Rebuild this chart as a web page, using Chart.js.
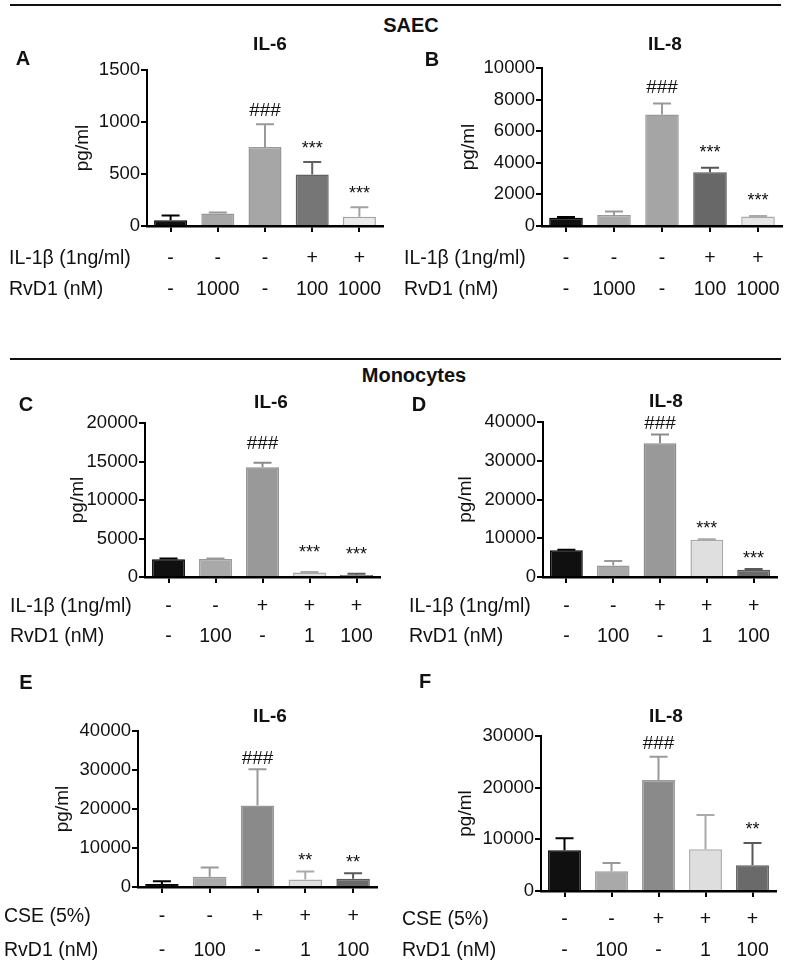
<!DOCTYPE html>
<html><head><meta charset="utf-8">
<script src="https://cdn.jsdelivr.net/npm/chart.js@4.4.1/dist/chart.umd.min.js"></script>
<style>
body{margin:0;background:#fff;width:788px;height:966px;position:relative;overflow:hidden;font-family:"Liberation Sans",Arial,sans-serif;}
.rule{position:absolute;left:10px;width:771px;height:2px;background:#111;}
.hdr{position:absolute;font-weight:bold;font-size:20px;transform:translate(-50%,-50%);white-space:nowrap;color:#111;}
canvas{position:absolute;}
</style></head><body>
<div class="rule" style="top:4px"></div>
<div class="hdr" style="left:411px;top:25px">SAEC</div>
<div class="rule" style="top:358px"></div>
<div class="hdr" style="left:414px;top:375px">Monocytes</div>
<canvas id="cA"></canvas><canvas id="cB"></canvas>
<canvas id="cC"></canvas><canvas id="cD"></canvas>
<canvas id="cE"></canvas><canvas id="cF"></canvas>
<script>
// ---- data ----
const il1bSAEC = ['-', '-', '-', '+', '+'];
const rvd1SAEC = ['-', '1000', '-', '100', '1000'];
const il1bMono = ['-', '-', '+', '+', '+'];
const rvd1Mono = ['-', '100', '-', '1', '100'];
const cseMono = ['-', '-', '+', '+', '+'];

const il6SAEC = [55, 120, 760, 495, 90];
const il6SAECErr = [45, 10, 218, 120, 90];
const il8SAEC = [520, 700, 7050, 3400, 600];
const il8SAECErr = [50, 220, 710, 280, 40];
const il6MonoIL1 = [2300, 2350, 14250, 600, 260];
const il6MonoIL1Err = [100, 50, 600, 60, 150];
const il8MonoIL1 = [6900, 3000, 34500, 9600, 1900];
const il8MonoIL1Err = [150, 1100, 2300, 150, 150];
const il6MonoCSE = [800, 2600, 20900, 1900, 2100];
const il6MonoCSEErr = [700, 2400, 9300, 2100, 1400];
const il8MonoCSE = [7900, 3800, 21500, 8100, 5000];
const il8MonoCSEErr = [2300, 1600, 4500, 6600, 4300];

const sigSAEC = ['', '', '###', '***', '***'];
const sigMonoIL1 = ['', '', '###', '***', '***'];
const sigIL6CSE = ['', '', '###', '**', '**'];
const sigIL8CSE = ['', '', '###', '', '**'];

// ---- styles ----
const FONT = '"Liberation Sans", Arial, sans-serif';
Chart.defaults.font.family = FONT;
const fillsA = ['#101010', '#a7a7a7', '#a6a6a6', '#767676', '#ebebeb'];
const bordA = ['#000000', '#999999', '#999999', '#606060', '#a3a3a3'];
const fillsB = ['#101010', '#a9a9a9', '#a5a5a5', '#686868', '#e6e6e6'];
const bordB = ['#000000', '#999999', '#999999', '#555555', '#aaaaaa'];
const fillsMono = ['#101010', '#a9a9a9', '#999999', '#dfdfdf', '#6a6a6a'];
const bordMono = ['#000000', '#999999', '#8c8c8c', '#a8a8a8', '#595959'];
const fillsCSE = ['#101010', '#a9a9a9', '#8a8a8a', '#dedede', '#6a6a6a'];
const bordCSE = ['#000000', '#999999', '#9a9a9a', '#aaaaaa', '#595959'];

const panels = [
  {id:'cA', box:[0,30,394,275], area:[147,383,70,226], max:1500, step:500,
   values:il6SAEC, errs:il6SAECErr, sig:sigSAEC, rows:[['IL-1β (1ng/ml)', il1bSAEC], ['RvD1 (nM)', rvd1SAEC]],
   rowX:9, rowY:[259,290], letter:['A',23,59], title:['IL-6',270,45], yTitleX:83, fills:fillsA, borders:bordA, gap:8},
  {id:'cB', box:[394,30,394,275], area:[542,782,68,226], max:10000, step:2000,
   values:il8SAEC, errs:il8SAECErr, sig:sigSAEC, rows:[['IL-1β (1ng/ml)', il1bSAEC], ['RvD1 (nM)', rvd1SAEC]],
   rowX:404, rowY:[259,290], letter:['B',432,60], title:['IL-8',665,45], yTitleX:469, fills:fillsB, borders:bordB, gap:10},
  {id:'cC', box:[0,385,394,265], area:[145,380,423,577], max:20000, step:5000,
   values:il6MonoIL1, errs:il6MonoIL1Err, sig:sigMonoIL1, rows:[['IL-1β (1ng/ml)', il1bMono], ['RvD1 (nM)', rvd1Mono]],
   rowX:10, rowY:[607,637], letter:['C',26,405], title:['IL-6',271,403], yTitleX:78, fills:fillsMono, borders:bordMono, gap:14},
  {id:'cD', box:[394,385,394,265], area:[543,777,422,577], max:40000, step:10000,
   values:il8MonoIL1, errs:il8MonoIL1Err, sig:sigMonoIL1, rows:[['IL-1β (1ng/ml)', il1bMono], ['RvD1 (nM)', rvd1Mono]],
   rowX:409, rowY:[607,637], letter:['D',419,405], title:['IL-8',666,402], yTitleX:466, fills:fillsMono, borders:bordMono, gap:5},
  {id:'cE', box:[0,665,394,301], area:[138,377,731,887], max:40000, step:10000,
   values:il6MonoCSE, errs:il6MonoCSEErr, sig:sigIL6CSE, rows:[['CSE (5%)', cseMono], ['RvD1 (nM)', rvd1Mono]],
   rowX:4, rowY:[917,951], letter:['E',26,683], title:['IL-6',270,717], yTitleX:63, fills:fillsCSE, borders:bordCSE, gap:5},
  {id:'cF', box:[394,665,394,301], area:[541,776,736,891], max:30000, step:10000,
   values:il8MonoCSE, errs:il8MonoCSEErr, sig:sigIL8CSE, rows:[['CSE (5%)', cseMono], ['RvD1 (nM)', rvd1Mono]],
   rowX:402, rowY:[920,951], letter:['F',425,682], title:['IL-8',666,717], yTitleX:466, fills:fillsCSE, borders:bordCSE, gap:8}
];

const Y_AXIS_W = 60, X_AXIS_H = 10;

function makePlugin(p) {
  const [cx, cy] = p.box;
  return {
    id: 'annot_' + p.id,
    afterDatasetsDraw(chart) {
      const ctx = chart.ctx, ys = chart.scales.y;
      const meta = chart.getDatasetMeta(0);
      ctx.save();
      meta.data.forEach((bar, i) => {
        const x = bar.x;
        const yMean = ys.getPixelForValue(p.values[i]);
        const yTop = ys.getPixelForValue(p.values[i] + p.errs[i]);
        ctx.strokeStyle = p.borders[i];
        ctx.lineWidth = 2;
        ctx.beginPath();
        ctx.moveTo(x, yMean); ctx.lineTo(x, yTop);
        ctx.moveTo(x - 9, yTop); ctx.lineTo(x + 9, yTop);
        ctx.stroke();
        if (p.sig[i]) {
          ctx.fillStyle = '#111';
          ctx.font = (p.sig[i][0] === '#' ? '19px ' : '18px ') + FONT;
          ctx.textAlign = 'center';
          ctx.textBaseline = 'alphabetic';
          ctx.fillText(p.sig[i], x, yTop - p.gap);
        }
      });
      ctx.restore();
    },
    afterDraw(chart) {
      const ctx = chart.ctx, xs = chart.scales.x;
      ctx.save();
      ctx.fillStyle = '#111';
      ctx.textBaseline = 'middle';
      ctx.font = 'bold 20px ' + FONT;
      ctx.textAlign = 'center';
      ctx.fillText(p.letter[0], p.letter[1] - cx, p.letter[2] - cy);
      ctx.font = 'bold 19px ' + FONT;
      ctx.fillText(p.title[0], p.title[1] - cx, p.title[2] - cy);
      ctx.save();
      ctx.translate(p.yTitleX - cx, (chart.chartArea.top + chart.chartArea.bottom) / 2);
      ctx.rotate(-Math.PI / 2);
      ctx.font = '19px ' + FONT;
      ctx.fillText('pg/ml', 0, 0);
      ctx.restore();
      ctx.font = '19.5px ' + FONT;
      p.rows.forEach((row, r) => {
        const y = p.rowY[r] - cy;
        ctx.textAlign = 'left';
        ctx.fillText(row[0], p.rowX - cx, y);
        ctx.textAlign = 'center';
        row[1].forEach((t, i) => ctx.fillText(t, xs.getPixelForValue(i), y));
      });
      ctx.restore();
    }
  };
}

panels.forEach(p => {
  const [cx, cy, cw, ch] = p.box;
  const [L, R, T, B] = p.area;
  const cv = document.getElementById(p.id);
  cv.width = cw; cv.height = ch;
  cv.style.left = cx + 'px'; cv.style.top = cy + 'px';
  const labels = p.rows[0][1].map((a, i) => a + '/' + p.rows[1][1][i]);
  new Chart(cv, {
    type: 'bar',
    data: {
      labels: labels,
      datasets: [{
        data: p.values,
        backgroundColor: p.fills,
        borderColor: p.borders,
        borderWidth: 1.5,
        categoryPercentage: 1,
        barPercentage: 0.7
      }]
    },
    options: {
      responsive: false,
      animation: false,
      devicePixelRatio: 1,
      layout: { padding: { left: L - cx - Y_AXIS_W, right: cx + cw - R, top: T - cy, bottom: cy + ch - B - X_AXIS_H } },
      plugins: { legend: { display: false }, tooltip: { enabled: false }, title: { display: false } },
      scales: {
        x: {
          afterFit: s => { s.height = X_AXIS_H; },
          ticks: { display: false },
          grid: { offset: false, drawOnChartArea: false, drawTicks: true, tickLength: 6, color: '#000', lineWidth: 2 },
          border: { display: true, color: '#000', width: 2.5 }
        },
        y: {
          min: 0, max: p.max,
          afterFit: s => { s.width = Y_AXIS_W; },
          ticks: { stepSize: p.step, color: '#111', padding: 1, font: { size: 18.5 }, callback: v => String(v) },
          grid: { drawOnChartArea: false, drawTicks: true, tickLength: 6, color: '#000', lineWidth: 2 },
          border: { display: true, color: '#000', width: 2 }
        }
      }
    },
    plugins: [makePlugin(p)]
  });
});
</script>
</body></html>
